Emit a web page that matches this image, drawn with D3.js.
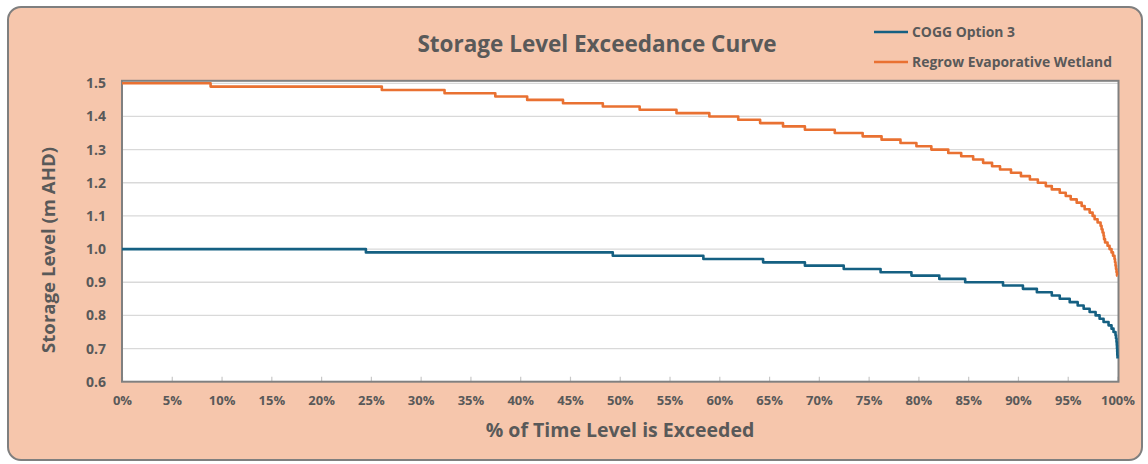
<!DOCTYPE html>
<html>
<head>
<meta charset="utf-8">
<script src="https://cdn.jsdelivr.net/npm/d3@7"></script>
<style>
  html, body { margin: 0; padding: 0; background: #ffffff; }
  svg { display: block; }
  text { font-family: "Open Sans", "Noto Sans", sans-serif; font-weight: 700; fill: #595959; }
</style>
</head>
<body>
<svg id="chart" width="1148" height="464"></svg>
<script>
// ---- data ----
const title = "Storage Level Exceedance Curve";
const xTitle = "% of Time Level is Exceeded";
const yTitle = "Storage Level (m AHD)";
const seriesNames = ["COGG Option 3", "Regrow Evaporative Wetland"];
const seriesColors = ["#156082", "#E97132"];

const xTicks = [0, 5, 10, 15, 20, 25, 30, 35, 40, 45, 50, 55, 60, 65, 70, 75, 80, 85, 90, 95, 100];
const yTicks = [0.6, 0.7, 0.8, 0.9, 1.0, 1.1, 1.2, 1.3, 1.4, 1.5];

// COGG Option 3: level held, and % exceeded at which each level ends
const coggLevels = [1.00, 0.99, 0.98, 0.97, 0.96, 0.95, 0.94, 0.93, 0.92, 0.91, 0.90, 0.89, 0.88, 0.87, 0.86, 0.85, 0.84, 0.83, 0.82, 0.81, 0.80, 0.79, 0.78, 0.77, 0.76, 0.75, 0.74, 0.73, 0.72, 0.71, 0.70, 0.69, 0.68, 0.67];
const coggEnds   = [24.5, 49.3, 58.4, 64.4, 68.6, 72.5, 76.2, 79.3, 82.1, 84.7, 88.5, 90.5, 91.9, 93.4, 94.2, 95.2, 96.0, 96.6, 97.2, 97.8, 98.2, 98.6, 99.1, 99.4, 99.6, 99.8, 99.85, 99.9, 99.93, 99.95, 99.97, 99.98, 100];

// Regrow Evaporative Wetland
const regrowLevels = [1.50, 1.49, 1.48, 1.47, 1.46, 1.45, 1.44, 1.43, 1.42, 1.41, 1.40, 1.39, 1.38, 1.37, 1.36, 1.35, 1.34, 1.33, 1.32, 1.31, 1.30, 1.29, 1.28, 1.27, 1.26, 1.25, 1.24, 1.23, 1.22, 1.21, 1.20, 1.19, 1.18, 1.17, 1.16, 1.15, 1.14, 1.13, 1.12, 1.11, 1.10, 1.09, 1.08, 1.07, 1.06, 1.05, 1.04, 1.03, 1.02, 1.01, 1.00, 0.99, 0.98, 0.97, 0.96, 0.95, 0.94, 0.93, 0.92];
const regrowEnds   = [8.9, 26.1, 32.4, 37.5, 40.7, 44.3, 48.3, 52.0, 55.7, 59.0, 61.9, 64.1, 66.4, 68.6, 71.6, 74.4, 76.3, 78.2, 79.8, 81.3, 83.0, 84.3, 85.5, 86.5, 87.4, 88.2, 89.3, 90.3, 91.2, 92.0, 92.8, 93.4, 94.2, 94.8, 95.3, 95.9, 96.4, 96.7, 97.2, 97.5, 97.7, 98.0, 98.3, 98.4, 98.5, 98.6, 98.65, 98.75, 99.0, 99.2, 99.4, 99.55, 99.7, 99.75, 99.8, 99.85, 99.9, 99.95, 100];

// ---- layout ----
const svg = d3.select("#chart");
const plot = { left: 122, right: 1117.5, top: 83.3, bottom: 381.7 };

const x = d3.scaleLinear().domain([0, 100]).range([plot.left, plot.right]);
const y = d3.scaleLinear().domain([0.6, 1.5]).range([plot.bottom, plot.top]);

// outer background
svg.append("rect")
  .attr("x", 8).attr("y", 7).attr("width", 1134).attr("height", 453)
  .attr("rx", 13).attr("ry", 13)
  .attr("fill", "#F6C6AC").attr("stroke", "#7f7f7f").attr("stroke-width", 2);

// plot background
svg.append("rect")
  .attr("x", plot.left).attr("y", plot.top - 2.5)
  .attr("width", plot.right - plot.left + 1).attr("height", plot.bottom - plot.top + 2.5)
  .attr("fill", "#ffffff");

// gridlines
svg.append("g")
  .selectAll("line").data(yTicks.slice(1)).join("line")
  .attr("x1", plot.left).attr("x2", plot.right + 1)
  .attr("y1", d => y(d)).attr("y2", d => y(d))
  .attr("stroke", "#d9d9d9").attr("stroke-width", 1.3);

// x axis ticks (inside, upward)
const xAxis = d3.axisBottom(x).tickValues(xTicks).tickFormat(d => d + "%").tickSizeInner(-5).tickSizeOuter(0).tickPadding(14);
const gx = svg.append("g").attr("transform", `translate(0,${plot.bottom})`).call(xAxis);
gx.attr("font-size", null).attr("font-family", null);
gx.select(".domain").remove();
gx.selectAll(".tick line").attr("stroke", "#c8c8c8").attr("stroke-width", 1.2);
gx.selectAll(".tick text").style("font-size", "13px").attr("fill", "#595959")
  .style("font-family", '"Open Sans", sans-serif').style("font-weight", 700);

// y axis
const yAxis = d3.axisLeft(y).tickValues(yTicks).tickFormat(d3.format(".1f")).tickSize(0).tickPadding(16);
const gy = svg.append("g").attr("transform", `translate(${plot.left},0)`).call(yAxis);
gy.attr("font-size", null).attr("font-family", null);
gy.select(".domain").remove();
gy.selectAll(".tick text").style("font-size", "14px").attr("fill", "#595959")
  .style("font-family", '"Open Sans", sans-serif').style("font-weight", 700);

// plot frame
svg.append("rect")
  .attr("x", plot.left).attr("y", plot.top - 2.5)
  .attr("width", plot.right - plot.left + 1).attr("height", plot.bottom - plot.top + 2.5)
  .attr("fill", "none").attr("stroke", "#808080").attr("stroke-width", 2);

// series
function stepPoints(levels, ends) {
  const pts = [];
  const starts = [0].concat(ends.slice(0, levels.length - 1));
  levels.forEach((lv, i) => pts.push([starts[i], lv]));
  pts.push([100, levels[levels.length - 1]]);
  return pts;
}
const line = d3.line().x(d => x(d[0])).y(d => y(d[1])).curve(d3.curveStepAfter);
const series = [stepPoints(coggLevels, coggEnds), stepPoints(regrowLevels, regrowEnds)];
series.forEach((pts, i) => {
  svg.append("path").datum(pts)
    .attr("d", line)
    .attr("fill", "none")
    .attr("stroke", seriesColors[i])
    .attr("stroke-width", 2.6)
    .attr("stroke-linejoin", "round");
});

// title
svg.append("text").attr("x", 597).attr("y", 52).attr("text-anchor", "middle")
  .style("font-size", "22.5px").text(title);

// axis titles
svg.append("text").attr("x", 620).attr("y", 437).attr("text-anchor", "middle")
  .style("font-size", "19.5px").text(xTitle);
svg.append("text").attr("transform", "translate(55,250) rotate(-90)").attr("text-anchor", "middle")
  .style("font-size", "18.6px").text(yTitle);

// legend
const legY = [32, 62];
seriesNames.forEach((n, i) => {
  svg.append("line").attr("x1", 874).attr("x2", 908).attr("y1", legY[i]).attr("y2", legY[i])
    .attr("stroke", seriesColors[i]).attr("stroke-width", 2.6);
  svg.append("text").attr("x", 912).attr("y", legY[i] + 5)
    .style("font-size", "13.9px").text(n);
});
</script>
</body>
</html>
